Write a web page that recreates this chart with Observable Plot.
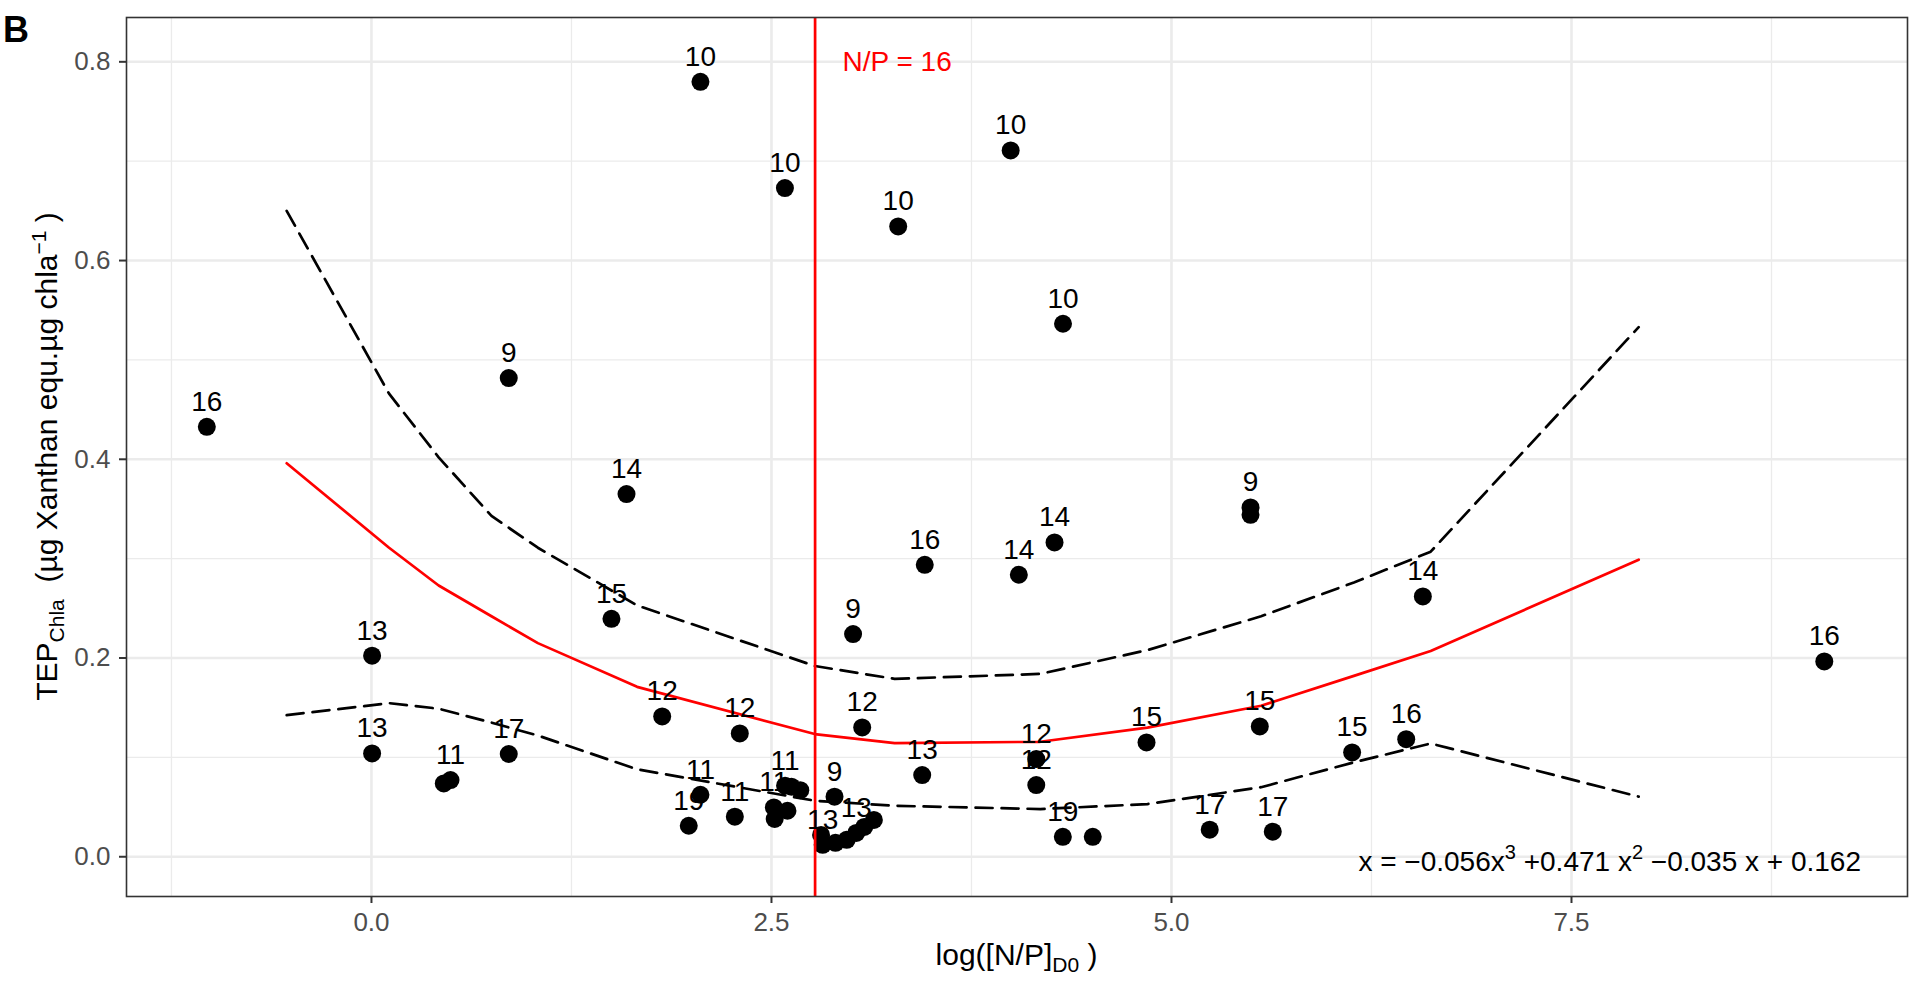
<!DOCTYPE html>
<html>
<head>
<meta charset="utf-8">
<script src="https://cdn.jsdelivr.net/npm/d3@7"></script>
<script src="https://cdn.jsdelivr.net/npm/@observablehq/plot@0.6"></script>
<style>
  html, body { margin: 0; padding: 0; background: #ffffff; }
  #chart { width: 1910px; height: 987px; }
</style>
</head>
<body>
<div id="chart"></div>
<script>
// Samples: log N/P at day 0 against TEP normalised to chlorophyll a, labelled by sampling day
const sampleX = [-1.029, 0.858, 1.594, 1.500, 0.004, 0.004, 0.452, 0.494, 0.858, 1.817,
                 2.302, 1.983, 2.056, 2.271, 2.515, 2.520, 2.600, 2.585, 2.625, 2.680,
                 2.894, 2.810, 2.820, 2.900, 2.970, 3.030, 3.080, 3.140, 2.056, 2.584,
                 3.292, 3.995, 4.322, 3.010, 3.067, 3.458, 4.046, 4.269, 3.442, 4.155,
                 4.155, 4.321, 4.508, 4.844, 5.494, 5.494, 5.552, 5.239, 5.633, 6.129,
                 6.467, 6.571, 9.080];
const sampleY = [0.4327, 0.4817, 0.3650, 0.2395, 0.2023, 0.1040, 0.0738, 0.0772, 0.1034, 0.1412,
                 0.1241, 0.0312, 0.0624, 0.0403, 0.0496, 0.0380, 0.0463, 0.0715, 0.0705, 0.0670,
                 0.0604, 0.0220, 0.0120, 0.0140, 0.0170, 0.0240, 0.0300, 0.0370, 0.7799, 0.6729,
                 0.6343, 0.7108, 0.5364, 0.2241, 0.1301, 0.2938, 0.2838, 0.3163, 0.0822, 0.0983,
                 0.0721, 0.0201, 0.0201, 0.1150, 0.3515, 0.3441, 0.1312, 0.0272, 0.0252, 0.1050,
                 0.1183, 0.2620, 0.1966];
// Labels hidden by overlapping neighbours are left empty
const sampleDay = ["16", "9", "14", "15", "13", "13", "", "11", "17", "12",
                   "12", "19", "11", "11", "11", "", "", "11", "", "",
                   "9", "", "13", "", "", "13", "", "", "10", "10",
                   "10", "10", "10", "9", "12", "16", "14", "14", "13", "12",
                   "12", "19", "", "15", "9", "", "15", "17", "17", "15",
                   "16", "14", "16"];

// Polynomial fit with its confidence band
const fitX   = [-0.53, 0.11, 0.42, 0.75, 1.04, 1.66, 2.77, 3.27, 4.18, 4.85, 5.56, 6.14, 6.62, 7.92];
const fitY   = [0.396, 0.311, 0.273, 0.242, 0.215, 0.171, 0.1235, 0.1144, 0.1157, 0.130, 0.152, 0.182, 0.207, 0.299];
const upperY = [0.650, 0.466, 0.402, 0.343, 0.311, 0.253, 0.192, 0.179, 0.184, 0.208, 0.242, 0.276, 0.307, 0.533];
const lowerY = [0.1426, 0.1546, 0.149, 0.135, 0.122, 0.088, 0.0564, 0.0513, 0.048, 0.053, 0.070, 0.095, 0.114, 0.0605];

// Axis ticks and grid
const xMajor = [0, 2.5, 5, 7.5];
const xMinor = [-1.25, 1.25, 3.75, 6.25, 8.75];
const yMajor = [0, 0.2, 0.4, 0.6, 0.8];
const yMinor = [0.1, 0.3, 0.5, 0.7];

// Redfield ratio marker and annotations
const npRatio = 16;
const npLabel = [{x: 2.944, y: 0.7993, text: "N/P = 16"}];
const equationAt = {x: 9.3125, y: -0.005};
const equationParts = [
  {text: "x = \u22120.056x", sup: false},
  {text: "3", sup: true},
  {text: " +0.471 x", sup: false},
  {text: "2", sup: true},
  {text: " \u22120.035 x + 0.162", sup: false}
];

const samples = sampleX.map((x, i) => ({x, y: sampleY[i], label: sampleDay[i]}));
const fit = fitX.map((x, i) => ({x, fit: fitY[i], upper: upperY[i], lower: lowerY[i]}));

const font = "'Liberation Sans', Arial, Helvetica, sans-serif";
const gridColor = "#EBEBEB";

const chart = Plot.plot({
  width: 1910,
  height: 987,
  marginLeft: 126,
  marginRight: 3,
  marginTop: 17,
  marginBottom: 91,
  style: {fontFamily: font, background: "#ffffff"},
  x: {domain: [-1.531, 9.6]},
  y: {domain: [-0.040, 0.8446]},
  marks: [
    Plot.gridX(xMinor, {stroke: gridColor, strokeOpacity: 1, strokeWidth: 1.3}),
    Plot.gridY(yMinor, {stroke: gridColor, strokeOpacity: 1, strokeWidth: 1.3}),
    Plot.gridX(xMajor, {stroke: gridColor, strokeOpacity: 1, strokeWidth: 2.6}),
    Plot.gridY(yMajor, {stroke: gridColor, strokeOpacity: 1, strokeWidth: 2.6}),
    Plot.axisX({ticks: xMajor, tickFormat: d3.format(".1f"), tickSize: 7, tickPadding: 9,
                strokeWidth: 2, stroke: "#333333", fill: "#4D4D4D", fontSize: 26, label: null}),
    Plot.axisY({ticks: yMajor, tickFormat: d3.format(".1f"), tickSize: 7, tickPadding: 9,
                strokeWidth: 2, stroke: "#333333", fill: "#4D4D4D", fontSize: 26, label: null}),
    Plot.dot(samples, {x: "x", y: "y", r: 9, fill: "black", stroke: null}),
    Plot.line(fit, {x: "x", y: "upper", stroke: "black", strokeWidth: 2.7, strokeDasharray: "17,9"}),
    Plot.line(fit, {x: "x", y: "lower", stroke: "black", strokeWidth: 2.7, strokeDasharray: "17,9"}),
    Plot.line(fit, {x: "x", y: "fit", stroke: "#FF0000", strokeWidth: 2.7}),
    Plot.ruleX([Math.log(npRatio)], {stroke: "#FF0000", strokeWidth: 2.7}),
    Plot.text(samples.filter(d => d.label), {x: "x", y: "y", text: "label", dy: -25, fontSize: 28, fill: "black"}),
    Plot.text(npLabel, {x: "x", y: "y", text: "text", textAnchor: "start", fontSize: 28, fill: "#FF0000"}),
    Plot.frame({stroke: "#333333", strokeWidth: 1.6})
  ]
});

document.getElementById("chart").appendChild(chart);

// Axis titles and the fitted equation, which need sub- and superscripts
const svg = d3.select(chart);
const sx = chart.scale("x");
const sy = chart.scale("y");
const xMid = (sx.range[0] + sx.range[1]) / 2;
const yMid = (sy.range[0] + sy.range[1]) / 2;

const eq = svg.append("text")
  .attr("x", sx.apply(equationAt.x)).attr("y", sy.apply(equationAt.y) + 10)
  .attr("text-anchor", "end")
  .attr("font-size", 28).attr("fill", "black")
  .style("white-space", "pre");
let raised = false;
for (const part of equationParts) {
  const t = eq.append("tspan").text(part.text);
  if (part.sup && !raised) { t.attr("dy", -12).attr("font-size", 20); raised = true; }
  else if (!part.sup && raised) { t.attr("dy", 12); raised = false; }
}

const xTitle = svg.append("text")
  .attr("x", xMid).attr("y", 965)
  .attr("text-anchor", "middle")
  .attr("font-size", 30).attr("fill", "black")
  .style("white-space", "pre");
xTitle.append("tspan").text("log([N/P]");
xTitle.append("tspan").attr("dy", 7).attr("font-size", 21).text("D0");
xTitle.append("tspan").attr("dy", -7).text(" )");

const yTitle = svg.append("text")
  .attr("transform", `translate(57,${yMid}) rotate(-90)`)
  .attr("text-anchor", "middle")
  .attr("font-size", 30).attr("fill", "black")
  .style("white-space", "pre");
yTitle.append("tspan").text("TEP");
yTitle.append("tspan").attr("dy", 7).attr("font-size", 21).text("Chla");
yTitle.append("tspan").attr("dy", -7).text("  (\u00B5g Xanthan equ.\u00B5g chla");
yTitle.append("tspan").attr("dy", -11).attr("font-size", 21).text("\u22121");
yTitle.append("tspan").attr("dy", 11).text(" )");

// Panel tag
svg.append("text")
  .attr("x", 16).attr("y", 42)
  .attr("font-size", 36).attr("font-weight", "bold").attr("fill", "black")
  .text("B");
</script>
</body>
</html>
